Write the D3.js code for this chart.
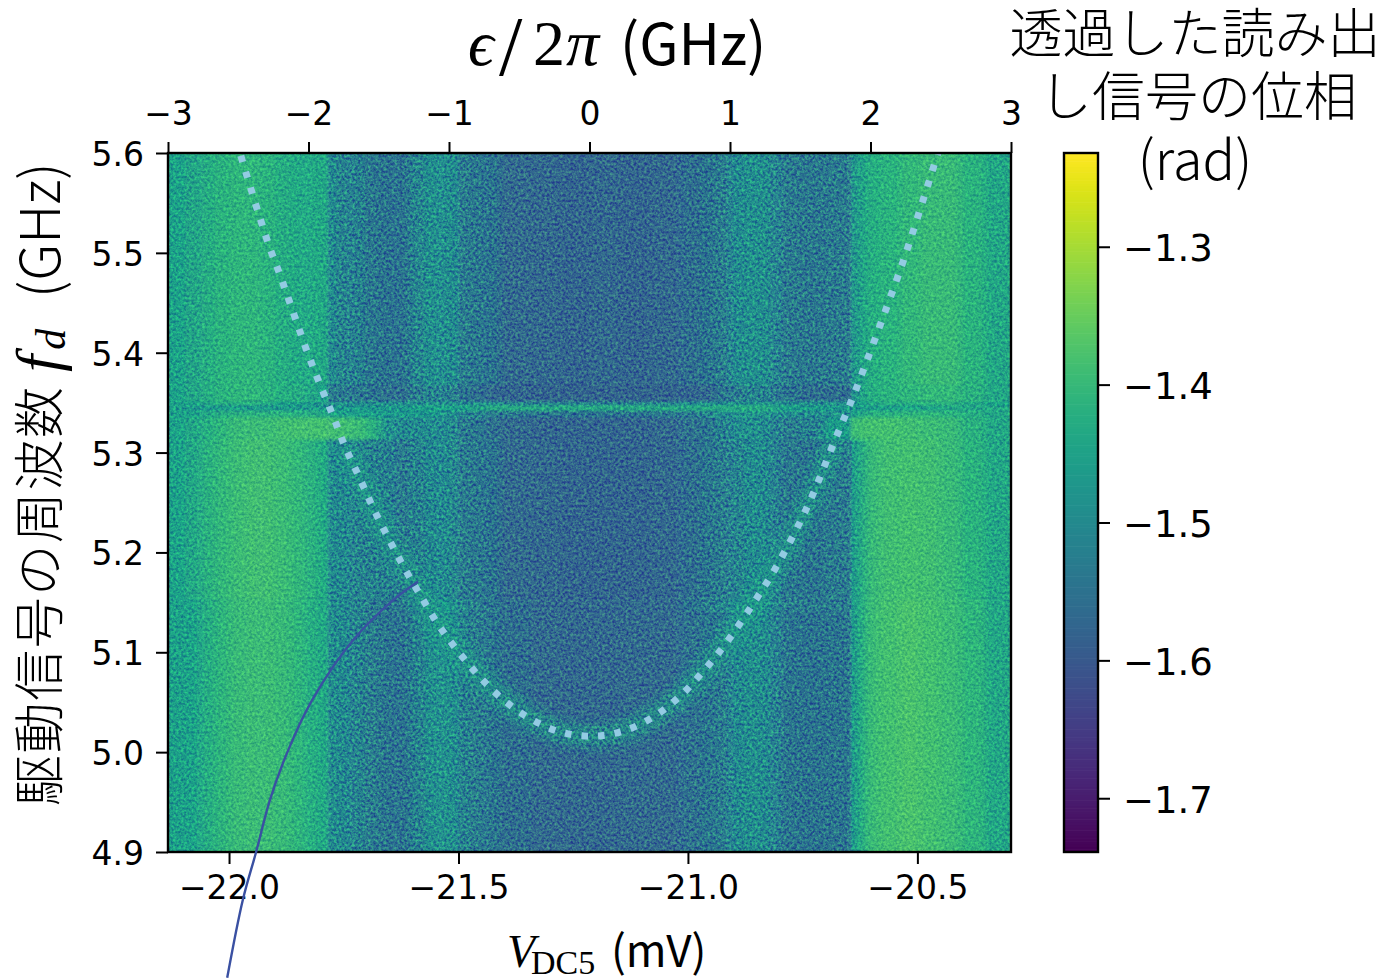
<!DOCTYPE html>
<html lang="ja">
<head>
<meta charset="utf-8">
<script src="https://cdn.jsdelivr.net/npm/d3@7"></script>
<style>
html,body{margin:0;padding:0;background:#fff;overflow:hidden}
svg{display:block}
text{fill:#000}
.tick text{font-family:"DejaVu Sans",sans-serif}
.cjk{font-family:"Noto Sans CJK JP","Noto Sans",sans-serif;font-weight:300}
.latin{font-family:"Noto Sans CJK JP","Noto Sans",sans-serif;font-weight:400}
.math{font-family:"Liberation Serif",serif;font-style:italic}
.serif{font-family:"Liberation Serif",serif}
</style>
</head>
<body>
<svg id="chart" width="1378" height="978"></svg>
<script>
// Chart values
const voltageDomain = [-22.133, -20.296];
const epsilonDomain = [-3, 3];
const frequencyDomain = [4.9, 5.6];
const phaseDomain = [-1.739, -1.232];

const voltageTicks = [-22, -21.5, -21, -20.5];
const epsilonTicks = [-3, -2, -1, 0, 1, 2, 3];
const frequencyTicks = [4.9, 5.0, 5.1, 5.2, 5.3, 5.4, 5.5, 5.6];
const phaseTicks = [-1.7, -1.6, -1.5, -1.4, -1.3];

const colorbarTitle = ["透過した読み出", "し信号の位相", "(rad)"];

// Heat-map column edges (mV)
const voltageEdges = [-22.133,-22.096,-22.063,-22.031,-21.998,-21.965,-21.932,-21.900,-21.867,-21.834,-21.806,-21.784,-21.767,-21.736,-21.704,-21.671,-21.638,-21.606,-21.573,-21.540,-21.519,-21.499,-21.475,-21.442,-21.410,-21.344,-21.279,-21.214,-21.148,-21.083,-21.017,-20.974,-20.941,-20.908,-20.876,-20.843,-20.821,-20.797,-20.756,-20.702,-20.645,-20.630,-20.610,-20.582,-20.538,-20.495,-20.451,-20.407,-20.353,-20.296];

// Column indices at which the phase jumps sharply
const jumpColumns = [0, 11, 21, 40, 49];

// Heat-map row edges (GHz), top to bottom
const frequencyEdges = [5.6, 5.368, 5.351, 5.347, 5.342, 5.335, 5.313, 5.153, 5.141, 4.9];

// Phase (rad) per column in each frequency band
const bandAbove = [-1.45,-1.445,-1.43,-1.415,-1.41,-1.41,-1.415,-1.43,-1.435,-1.435,-1.44,-1.50,-1.515,-1.525,-1.54,-1.55,-1.55,-1.51,-1.49,-1.495,-1.505,-1.53,-1.54,-1.55,-1.565,-1.57,-1.575,-1.57,-1.575,-1.57,-1.56,-1.55,-1.53,-1.50,-1.49,-1.495,-1.515,-1.535,-1.54,-1.535,-1.48,-1.445,-1.425,-1.415,-1.405,-1.40,-1.40,-1.415,-1.44];
const bandDark = [-1.45,-1.445,-1.43,-1.415,-1.41,-1.41,-1.415,-1.425,-1.43,-1.44,-1.46,-1.53,-1.535,-1.54,-1.55,-1.555,-1.555,-1.53,-1.52,-1.525,-1.53,-1.55,-1.56,-1.57,-1.575,-1.58,-1.58,-1.58,-1.58,-1.58,-1.575,-1.565,-1.55,-1.53,-1.52,-1.52,-1.535,-1.55,-1.56,-1.56,-1.50,-1.445,-1.425,-1.415,-1.41,-1.405,-1.405,-1.42,-1.44];
const bandEdge = [-1.45,-1.45,-1.44,-1.43,-1.43,-1.43,-1.44,-1.45,-1.46,-1.47,-1.48,-1.49,-1.49,-1.49,-1.49,-1.49,-1.49,-1.49,-1.49,-1.49,-1.49,-1.50,-1.50,-1.50,-1.51,-1.51,-1.51,-1.51,-1.51,-1.51,-1.50,-1.50,-1.49,-1.48,-1.48,-1.48,-1.49,-1.49,-1.49,-1.49,-1.47,-1.45,-1.44,-1.43,-1.43,-1.42,-1.42,-1.44,-1.45];
const bandLine = [-1.46,-1.47,-1.47,-1.47,-1.47,-1.47,-1.47,-1.47,-1.47,-1.47,-1.47,-1.47,-1.47,-1.47,-1.47,-1.47,-1.47,-1.46,-1.45,-1.45,-1.45,-1.45,-1.44,-1.43,-1.43,-1.43,-1.43,-1.43,-1.43,-1.43,-1.43,-1.43,-1.43,-1.43,-1.43,-1.43,-1.44,-1.45,-1.46,-1.47,-1.47,-1.47,-1.46,-1.46,-1.45,-1.45,-1.44,-1.44,-1.44];
const bandUnderLine = [-1.45,-1.45,-1.44,-1.43,-1.42,-1.42,-1.42,-1.42,-1.43,-1.43,-1.44,-1.45,-1.46,-1.46,-1.47,-1.47,-1.47,-1.47,-1.47,-1.48,-1.49,-1.51,-1.52,-1.53,-1.54,-1.55,-1.55,-1.55,-1.55,-1.54,-1.53,-1.52,-1.50,-1.48,-1.48,-1.48,-1.49,-1.50,-1.50,-1.49,-1.46,-1.44,-1.42,-1.42,-1.41,-1.41,-1.42,-1.43,-1.44];
const bandBright = [-1.45,-1.44,-1.425,-1.41,-1.40,-1.395,-1.395,-1.39,-1.385,-1.385,-1.385,-1.39,-1.39,-1.395,-1.42,-1.49,-1.505,-1.505,-1.50,-1.50,-1.51,-1.535,-1.545,-1.555,-1.565,-1.575,-1.575,-1.575,-1.575,-1.57,-1.555,-1.545,-1.525,-1.50,-1.49,-1.50,-1.52,-1.53,-1.525,-1.46,-1.40,-1.385,-1.385,-1.385,-1.39,-1.395,-1.40,-1.42,-1.44];
const bandMiddle = [-1.45,-1.44,-1.42,-1.405,-1.395,-1.39,-1.39,-1.395,-1.405,-1.42,-1.435,-1.50,-1.505,-1.515,-1.52,-1.525,-1.535,-1.52,-1.505,-1.50,-1.51,-1.53,-1.54,-1.55,-1.565,-1.57,-1.575,-1.575,-1.575,-1.57,-1.56,-1.545,-1.53,-1.515,-1.50,-1.50,-1.525,-1.54,-1.545,-1.535,-1.475,-1.43,-1.40,-1.39,-1.385,-1.39,-1.40,-1.415,-1.44];
const bandFaint = [-1.455,-1.45,-1.43,-1.41,-1.40,-1.395,-1.395,-1.40,-1.41,-1.425,-1.44,-1.495,-1.505,-1.515,-1.53,-1.54,-1.535,-1.51,-1.485,-1.475,-1.49,-1.51,-1.53,-1.545,-1.56,-1.565,-1.57,-1.57,-1.565,-1.565,-1.55,-1.53,-1.515,-1.495,-1.485,-1.49,-1.51,-1.53,-1.535,-1.535,-1.47,-1.425,-1.395,-1.385,-1.38,-1.385,-1.395,-1.41,-1.44];
const bandLow = [-1.455,-1.45,-1.43,-1.41,-1.40,-1.395,-1.395,-1.40,-1.41,-1.425,-1.44,-1.495,-1.505,-1.515,-1.53,-1.545,-1.55,-1.52,-1.49,-1.485,-1.50,-1.52,-1.53,-1.545,-1.56,-1.565,-1.57,-1.57,-1.565,-1.565,-1.555,-1.545,-1.53,-1.505,-1.495,-1.50,-1.52,-1.545,-1.55,-1.545,-1.475,-1.425,-1.395,-1.385,-1.38,-1.385,-1.395,-1.41,-1.44];
const bands = [bandAbove, bandDark, bandEdge, bandLine, bandUnderLine, bandBright, bandMiddle, bandFaint, bandLow];

// Resonance curve (dotted line)
const resonanceEpsilon = [-2.488,-2.288,-2.203,-2.004,-1.918,-1.826,-1.740,-1.641,-1.541,-1.434,-1.320,-1.199,-1.078,-0.936,-0.779,-0.609,-0.416,-0.203,0.032,0.260,0.473,0.658,0.822,0.971,1.171,1.327,1.548,1.754,1.890,2.181,2.260,2.480];
const resonanceFrequency = [5.600,5.510,5.478,5.399,5.368,5.337,5.306,5.276,5.245,5.215,5.185,5.156,5.128,5.101,5.075,5.052,5.033,5.020,5.016,5.022,5.037,5.058,5.083,5.109,5.150,5.185,5.245,5.315,5.361,5.471,5.503,5.600];

// Annotation leader line, in axis units
const leaderVoltage = [-21.588,-21.643,-21.730,-21.819,-21.871,-21.911,-21.941,-21.970,-22.004];
const leaderFrequency = [5.171,5.152,5.112,5.052,5.002,4.952,4.900,4.852,4.774];

// Layout
const plot = {left:168, right:1011, top:153, bottom:852};
const bar = {left:1064, right:1098};

const svg = d3.select("#chart");
const x = d3.scaleLinear().domain(voltageDomain).range([plot.left, plot.right]);
const xTop = d3.scaleLinear().domain(epsilonDomain).range([plot.left, plot.right]);
const y = d3.scaleLinear().domain(frequencyDomain).range([plot.bottom, plot.top]);
const color = d3.scaleSequential(d3.interpolateViridis).domain(phaseDomain);
const barY = d3.scaleLinear().domain(phaseDomain).range([plot.bottom, plot.top]);

const defs = svg.append("defs");
defs.append("clipPath").attr("id","plotClip").append("rect")
  .attr("x",plot.left).attr("y",plot.top)
  .attr("width",plot.right-plot.left).attr("height",plot.bottom-plot.top);
const soft = defs.append("filter").attr("id","soft").attr("filterUnits","userSpaceOnUse")
  .attr("x",plot.left-60).attr("y",plot.top-30).attr("width",plot.right-plot.left+120).attr("height",plot.bottom-plot.top+60);
soft.append("feGaussianBlur").attr("stdDeviation","5 1.1");
const finish = defs.append("filter").attr("id","finish").attr("filterUnits","userSpaceOnUse")
  .attr("x",plot.left-10).attr("y",plot.top-10).attr("width",plot.right-plot.left+20).attr("height",plot.bottom-plot.top+20);
finish.append("feGaussianBlur").attr("stdDeviation",0.9);
const glowBlur = defs.append("filter").attr("id","glowBlur").attr("x",-0.1).attr("y",-0.1).attr("width",1.2).attr("height",1.2);
glowBlur.append("feGaussianBlur").attr("stdDeviation",5);
const noise = defs.append("filter").attr("id","noise").attr("x",0).attr("y",0).attr("width",1).attr("height",1)
  .attr("color-interpolation-filters","sRGB");
noise.append("feTurbulence").attr("type","fractalNoise").attr("baseFrequency",0.38).attr("numOctaves",3).attr("seed",7);
// The texture moves red and green only, so it shifts colours along the map and leaves blue alone
noise.append("feColorMatrix").attr("type","matrix")
  .attr("values","1.4 0 0 0 -0.2  1.8 0 0 0 -0.4  0 0 0 0 0.5  0 0 0 0 1");

// Heat map, drawn in pieces split at the sharp jumps
const plotG = svg.append("g").attr("clip-path","url(#plotClip)");
const heat = plotG.append("g").attr("filter","url(#finish)");
const extend = 16;
d3.pairs(jumpColumns).forEach(([from,to],s)=>{
  const left = x(voltageEdges[from]), right = x(voltageEdges[to]);
  defs.append("clipPath").attr("id","seg"+s).append("rect")
    .attr("x",left).attr("y",plot.top-12).attr("width",right-left).attr("height",plot.bottom-plot.top+24);
  const segment = heat.append("g").attr("clip-path",`url(#seg${s})`).append("g").attr("filter","url(#soft)");
  const cells = bands.flatMap((band,r)=>band.slice(from,to).map((value,i)=>({r,c:from+i,value})));
  segment.selectAll("rect").data(cells).join("rect")
    .attr("x",d=>x(voltageEdges[d.c])-(d.c===from?extend:0))
    .attr("y",d=>y(frequencyEdges[d.r])-(d.r===0?12:0))
    .attr("width",d=>x(voltageEdges[d.c+1])-x(voltageEdges[d.c])+0.6+(d.c===from?extend:0)+(d.c===to-1?extend:0))
    .attr("height",d=>y(frequencyEdges[d.r+1])-y(frequencyEdges[d.r])+0.6+(d.r===0?12:0)+(d.r===bands.length-1?12:0))
    .attr("fill",d=>color(d.value));
});

const curvePoints = resonanceEpsilon.map((e,i)=>[e,resonanceFrequency[i]]);
const curveLine = d3.line().x(d=>xTop(d[0])).y(d=>y(d[1])).curve(d3.curveCatmullRom);

// Faint glow of the resonance seen under the dots
plotG.append("path")
  .datum(curvePoints.filter(d=>d[1]<5.33))
  .attr("d",curveLine).attr("fill","none")
  .attr("stroke",color(-1.46)).attr("stroke-width",22)
  .attr("stroke-opacity",0.6).attr("filter","url(#glowBlur)");

// Measurement noise texture
plotG.append("rect")
  .attr("x",plot.left).attr("y",plot.top)
  .attr("width",plot.right-plot.left).attr("height",plot.bottom-plot.top)
  .attr("filter","url(#noise)")
  .style("mix-blend-mode","overlay").style("opacity",0.45);

// Dotted resonance curve
plotG.append("path")
  .datum(curvePoints)
  .attr("d",curveLine).attr("fill","none")
  .attr("stroke","#93cbe3").attr("stroke-width",7)
  .attr("stroke-dasharray","6.5 10.1").attr("stroke-dashoffset",-3);

// Frame
svg.append("rect").attr("x",plot.left).attr("y",plot.top)
  .attr("width",plot.right-plot.left).attr("height",plot.bottom-plot.top)
  .attr("fill","none").attr("stroke","#000").attr("stroke-width",2.4);

function styleAxis(g,size){
  g.select(".domain").remove();
  g.selectAll(".tick line").attr("stroke","#000").attr("stroke-width",2);
  g.selectAll(".tick text").attr("fill","#000").style("font-size",size+"px");
}
svg.append("g").attr("transform",`translate(0,${plot.bottom})`)
  .call(d3.axisBottom(x).tickValues(voltageTicks).tickFormat(d3.format(".1f")).tickSize(12).tickPadding(12))
  .call(styleAxis,33);
svg.append("g").attr("transform",`translate(0,${plot.top})`)
  .call(d3.axisTop(xTop).tickValues(epsilonTicks).tickFormat(d3.format("d")).tickSize(11).tickPadding(17))
  .call(styleAxis,33);
svg.append("g").attr("transform",`translate(${plot.left},0)`)
  .call(d3.axisLeft(y).tickValues(frequencyTicks).tickFormat(d3.format(".1f")).tickSize(12).tickPadding(12))
  .call(styleAxis,33)
  .call(g=>g.selectAll(".tick text").attr("dy","0.38em"));

// Colour bar
const barValues = d3.range(256).map(i=>phaseDomain[0]+(phaseDomain[1]-phaseDomain[0])*(i+0.5)/256);
const barStep = (phaseDomain[1]-phaseDomain[0])/256;
svg.append("g").selectAll("rect").data(barValues).join("rect")
  .attr("x",bar.left).attr("width",bar.right-bar.left)
  .attr("y",d=>barY(d+barStep/2)).attr("height",(plot.bottom-plot.top)/256+0.6)
  .attr("fill",d=>color(d));
svg.append("rect").attr("x",bar.left).attr("y",plot.top)
  .attr("width",bar.right-bar.left).attr("height",plot.bottom-plot.top)
  .attr("fill","none").attr("stroke","#000").attr("stroke-width",2.4);
svg.append("g").attr("transform",`translate(${bar.right},0)`)
  .call(d3.axisRight(barY).tickValues(phaseTicks).tickFormat(d3.format(".1f")).tickSize(12).tickPadding(13))
  .call(styleAxis,37)
  .call(g=>g.selectAll(".tick text").attr("dy","0.38em"));

// Leader line
svg.append("path")
  .datum(leaderVoltage.map((v,i)=>[v,leaderFrequency[i]]))
  .attr("d",d3.line().x(d=>x(d[0])).y(d=>y(d[1])).curve(d3.curveCatmullRom))
  .attr("fill","none").attr("stroke","#3a50a2").attr("stroke-width",2.4);

// Colour-bar title
const titleBase = [53,116,180];
const titleMid = [1195,1198,1195];
const titleSize = [53,53,54];
svg.append("g").selectAll("text").data(colorbarTitle).join("text")
  .attr("class","cjk").attr("text-anchor","middle")
  .attr("x",(d,i)=>titleMid[i]).attr("y",(d,i)=>titleBase[i])
  .style("font-size",(d,i)=>titleSize[i]+"px").text(d=>d);

// Top title
const topTitle = svg.append("g").attr("transform","translate(0,65)");
topTitle.append("text").attr("class","math").attr("x",468).style("font-size","64px").text("ϵ");
topTitle.append("text").attr("class","serif").attr("x",499).attr("y",10).style("font-size","84px").text("/");
topTitle.append("text").attr("class","serif").attr("x",533).style("font-size","64px").text("2");
topTitle.append("text").attr("class","math").attr("x",566).style("font-size","66px").text("π");
svg.append("text").attr("class","latin").attr("x",620).attr("y",65).style("font-size","57px").text("(GHz)");

// Left label
const yLabel = svg.append("g").attr("transform","translate(60,0) rotate(-90)");
yLabel.append("text").attr("class","cjk").attr("x",-806).attr("y",-2)
  .attr("textLength",419).attr("lengthAdjust","spacing")
  .style("font-size","51px").text("駆動信号の周波数");
const fdLabel = yLabel.append("text").attr("x",-372).attr("y",-1);
fdLabel.append("tspan").attr("class","math").style("font-size","62px").text("f");
fdLabel.append("tspan").attr("class","math").attr("dx",5).attr("dy",6).style("font-size","42px").text("d");
yLabel.append("text").attr("class","cjk").attr("x",-298).attr("y",0).style("font-size","55px").text("(GHz)");

// Bottom label
const xLabel = svg.append("text").attr("y",967);
xLabel.append("tspan").attr("x",507).attr("class","math").style("font-size","46px").text("V");
xLabel.append("tspan").attr("x",531).attr("dy",7).attr("class","serif").style("font-size","34px").text("DC5");
svg.append("text").attr("class","latin").attr("x",611).attr("y",967).style("font-size","44px").text("(mV)");
</script>
</body>
</html>
